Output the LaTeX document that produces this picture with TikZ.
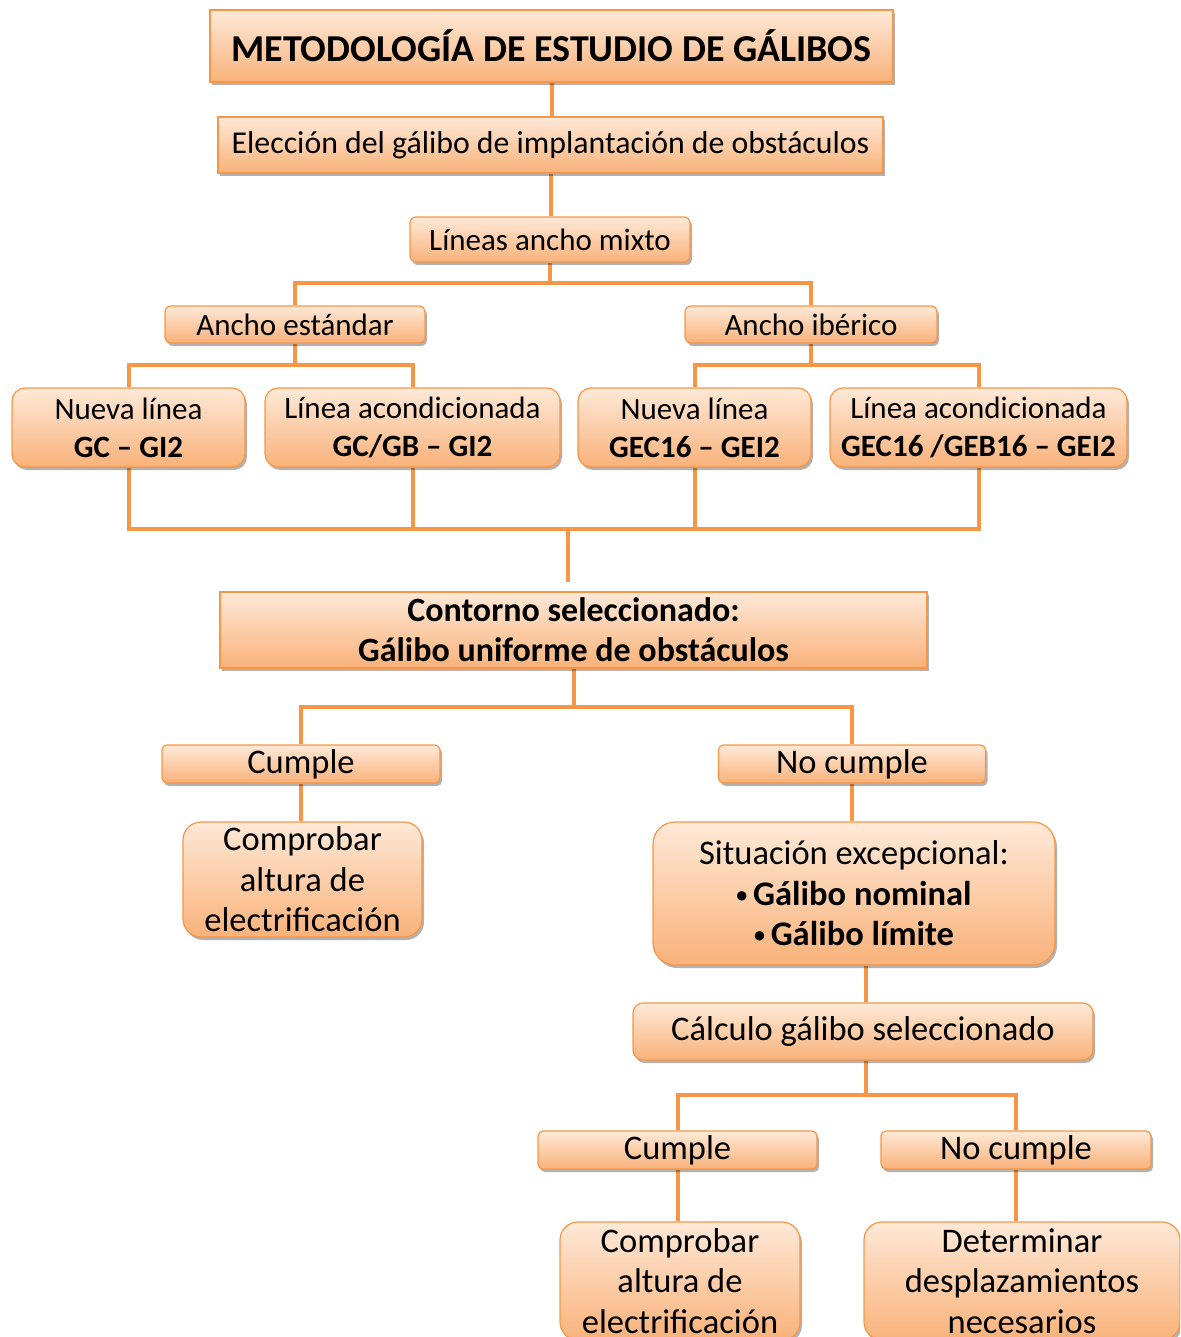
\documentclass[tikz,border=0pt]{standalone}
\usepackage{fontspec}
\setmainfont{Carlito}
\usetikzlibrary{shadows}
\definecolor{orB}{HTML}{F79646}
\definecolor{topC}{HTML}{FEE9D8}
\definecolor{botC}{HTML}{F9B27A}
\pgfdeclarelayer{bg}
\pgfsetlayers{bg,main}
\newcommand{\smbul}{\raisebox{3pt}{\fontsize{22}{22}\selectfont•}\,}
\tikzset{
  box/.style={draw=orB, line width=1.2pt, top color=topC, bottom color=botC,
    inner sep=0pt, align=center, text=black,
    drop shadow={shadow xshift=2pt, shadow yshift=-3pt, opacity=0.3, fill=black}},
  conn/.style={draw=orB, line width=4pt, line join=miter},
  up/.style={font=\fontsize{31}{38}\selectfont},
  lo/.style={font=\fontsize{34.5}{40.5}\selectfont},
  lob/.style={font=\bfseries\fontsize{34}{40}\selectfont},
}
\begin{document}
\begin{tikzpicture}[x=1pt,y=-1pt]
\path[use as bounding box, clip] (0,0) rectangle (1180,1337);
% nodes
\node[box, minimum width=683pt, minimum height=72pt, font=\bfseries\fontsize{38}{42}\selectfont] (title) at (551.5,46) {METODOLOGÍA DE ESTUDIO DE GÁLIBOS};
\node[box, minimum width=665pt, minimum height=56pt, font=\fontsize{31.8}{38}\selectfont] (elec) at (550.5,145) {Elección del gálibo de implantación de obstáculos};
\node[box, up, rounded corners=6pt, minimum width=280pt, minimum height=45pt] (lineas) at (550,239.5) {Líneas ancho mixto};
\node[box, up, rounded corners=6pt, minimum width=260pt, minimum height=37pt] (estd) at (295,324.5) {Ancho estándar};
\node[box, up, rounded corners=6pt, minimum width=252pt, minimum height=37pt] (iber) at (811,324.5) {Ancho ibérico};
\node[box, up, rounded corners=13pt, minimum width=233pt, minimum height=79pt] (n1) at (128.5,427.5) {Nueva línea\\\textbf{GC – GI2}};
\node[box, up, rounded corners=13pt, minimum width=295pt, minimum height=79pt] (n2) at (412.5,427.5) {Línea acondicionada\\\textbf{GC/GB – GI2}};
\node[box, up, rounded corners=13pt, minimum width=233pt, minimum height=79pt] (n3) at (694.5,427.5) {Nueva línea\\\textbf{GEC16 – GEI2}};
\node[box, up, rounded corners=13pt, minimum width=297pt, minimum height=79pt] (n4) at (978.5,427.5) {Línea acondicionada\\\textbf{GEC16 /GEB16 – GEI2}};
\node[box, lob, minimum width=707pt, minimum height=76pt] (cont) at (573.5,630) {Contorno seleccionado:\\Gálibo uniforme de obstáculos};
\node[box, lo, rounded corners=5pt, minimum width=278pt, minimum height=38pt] (c1) at (301,764) {Cumple};
\node[box, lo, rounded corners=5pt, minimum width=267pt, minimum height=38pt] (nc1) at (852,764) {No cumple};
\node[box, lo, rounded corners=18pt, minimum width=239pt, minimum height=115pt] (comp1) at (302.5,879.5) {Comprobar\\altura de\\electrificación};
\node[box, lo, rounded corners=22pt, minimum width=402pt, minimum height=143pt] (sit) at (854,893.5) {Situación excepcional:\\\textbf{\smbul Gálibo nominal}\\\textbf{\smbul Gálibo límite}};
\node[box, lo, rounded corners=10pt, minimum width=460pt, minimum height=57pt] (cal) at (863,1031.5) {Cálculo gálibo seleccionado};
\node[box, lo, rounded corners=5pt, minimum width=279pt, minimum height=38pt] (c2) at (677.5,1150) {Cumple};
\node[box, lo, rounded corners=5pt, minimum width=270pt, minimum height=38pt] (nc2) at (1016,1150) {No cumple};
\node[box, lo, rounded corners=18pt, minimum width=240pt, minimum height=118pt] (comp2) at (680,1281) {Comprobar\\altura de\\electrificación};
\node[box, lo, rounded corners=18pt, minimum width=316pt, minimum height=118pt] (det) at (1022,1281) {Determinar\\desplazamientos\\necesarios};
% junctions
\coordinate (j1) at (551,283);
\coordinate (j2) at (295,365);
\coordinate (j3) at (811,365);
\coordinate (bus) at (568,529);
\coordinate (stub) at (568,582);
\coordinate (j4) at (573.5,707);
\coordinate (j5) at (866,1095);
\begin{pgfonlayer}{bg}
\draw[conn] (title.south) -- (title.south |- elec.north);
\draw[conn] (elec.south) -- (elec.south |- lineas.north);
\draw[conn] (lineas.south) -- (lineas.south |- j1);
\draw[conn] (estd.north) |- (j1) -| (iber.north);
\draw[conn] (estd.south) -- (estd.south |- j2);
\draw[conn] (n1.north) |- (j2) -| (n2.north);
\draw[conn] (iber.south) -- (iber.south |- j3);
\draw[conn] (n3.north) |- (j3) -| (n4.north);
\draw[conn] (n1.south) |- (bus) -| (n4.south);
\draw[conn] (n2.south) -- (n2.south |- bus);
\draw[conn] (n3.south) -- (n3.south |- bus);
\draw[conn] (bus) -- (stub);
\draw[conn] (cont.south) -- (j4);
\draw[conn] (c1.north) |- (j4) -| (nc1.north);
\draw[conn] (c1.south) -- (c1.south |- comp1.north);
\draw[conn] (nc1.south) -- (nc1.south |- sit.north);
\draw[conn] (sit.south -| j5) -- (cal.north -| j5);
\draw[conn] (cal.south -| j5) -- (j5);
\draw[conn] (c2.north) |- (j5) -| (nc2.north);
\draw[conn] (c2.south) -- (c2.south |- comp2.north);
\draw[conn] (nc2.south) -- (nc2.south |- det.north);
\end{pgfonlayer}
\end{tikzpicture}
\end{document}
